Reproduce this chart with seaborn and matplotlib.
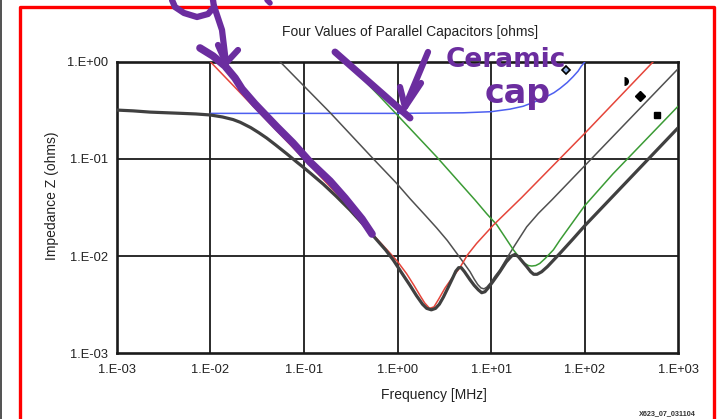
import matplotlib
matplotlib.use("Agg")
import matplotlib.pyplot as plt
import seaborn as sns
from matplotlib.lines import Line2D
from matplotlib.ticker import NullLocator

# ---------------- data ----------------
combined_f = [0.001, 0.0015, 0.00227, 0.0035, 0.005, 0.007, 0.01, 0.0135, 0.0175, 0.0209,
              0.027, 0.033, 0.04, 0.05, 0.0655, 0.0837, 0.0986, 0.12, 0.161, 0.22, 0.311,
              0.45, 0.6, 0.75, 0.902, 1.1, 1.36, 1.6, 1.85, 2.05, 2.3, 2.55, 2.8, 3.1, 3.49,
              3.9, 4.2, 4.5, 4.8, 5.2, 5.96, 6.6, 7.3, 7.94, 8.6, 9.3, 10.5, 12.4, 14.5,
              16.5, 18.0, 19.5, 22.0, 24.0, 26.5, 28.5, 31.0, 34.7, 40.0, 54.5, 75.0,
              100, 1000]
combined_z = [0.318, 0.312, 0.303, 0.298, 0.294, 0.29, 0.283, 0.27, 0.254, 0.238,
              0.21, 0.186, 0.164, 0.139, 0.113, 0.093, 0.082, 0.070, 0.055, 0.0415, 0.0298,
              0.0202, 0.0147, 0.0115, 0.0091, 0.0068, 0.0050, 0.0039, 0.0032, 0.0029, 0.0028,
              0.0029, 0.0032, 0.0038, 0.0048, 0.0060, 0.0070, 0.0076, 0.0076, 0.0069, 0.0057,
              0.0050, 0.0045, 0.0042, 0.0043, 0.0047, 0.0055, 0.0069, 0.0087, 0.0100, 0.0104,
              0.0099, 0.0086, 0.0078, 0.0069, 0.0065, 0.0065, 0.0069, 0.0078, 0.0107, 0.0150,
              0.0205, 0.21]

red_f = [0.01, 0.1, 0.3, 0.575, 0.8, 1.0, 1.25, 1.5, 1.75, 1.95, 2.2, 2.45, 2.75, 3.22,
         3.8, 4.6, 5.6, 7.0, 10.6, 21.2, 100, 540]
red_z = [1.0, 0.1, 0.0325, 0.0158, 0.0112, 0.0088, 0.0066, 0.0050, 0.0039, 0.0033, 0.0029,
         0.0030, 0.0036, 0.0047, 0.0059, 0.0075, 0.0103, 0.0135, 0.0209, 0.040, 0.183, 1.0]

gray_f = [0.0556, 0.19, 0.552, 0.98, 1.36, 2.0, 2.62, 3.4, 4.29, 5.2, 5.96, 6.6, 7.2, 7.8,
          8.4, 9.0, 10.0, 11.0, 12.4, 15.0, 18.0, 24.0, 32.0, 44.5, 100, 1000]
gray_z = [1.0, 0.30, 0.1, 0.056, 0.039, 0.026, 0.0195, 0.0145, 0.0107, 0.0083, 0.0069,
          0.0058, 0.0051, 0.0047, 0.0046, 0.0048, 0.0054, 0.0062, 0.0072, 0.0098, 0.0130,
          0.020, 0.0275, 0.0378, 0.085, 0.85]

green_f = [0.28, 0.65, 2.62, 6.73, 9.0, 11.5, 14.0, 17.3, 20.0, 22.5, 25.0, 27.2, 30.0,
           33.1, 38.0, 46.3, 54.6, 70.0, 100, 200, 1000]
green_z = [1.0, 0.437, 0.105, 0.0378, 0.0272, 0.021, 0.0158, 0.0116, 0.0097, 0.0085,
           0.0080, 0.0079, 0.0080, 0.0084, 0.0095, 0.0116, 0.0147, 0.0205, 0.0330, 0.070, 0.35]

blue_f = [0.01, 1.0, 5.0, 10, 15.9, 22, 30, 39, 47, 54.6, 65, 75, 85, 92, 100, 102]
blue_z = [0.294, 0.294, 0.298, 0.306, 0.325, 0.348, 0.39, 0.437, 0.48, 0.532, 0.61, 0.70,
          0.80, 0.90, 0.99, 1.02]

key_f = [63.5, 263, 391, 597]
key_z = [0.82, 0.63, 0.444, 0.283]

x_ticks = [1e-3, 1e-2, 1e-1, 1e0, 1e1, 1e2, 1e3]
x_tick_labels = ["1.E-03", "1.E-02", "1.E-01", "1.E+00", "1.E+01", "1.E+02", "1.E+03"]
y_ticks = [1e-3, 1e-2, 1e-1, 1e0]
y_tick_labels = ["1.E-03", "1.E-02", "1.E-01", "1.E+00"]

title = "Four Values of Parallel Capacitors [ohms]"
x_label = "Frequency [MHz]"
y_label = "Impedance Z (ohms)"
figure_id = "X623_07_031104"
note_lines = ["Ceramic", "cap"]

# ---------------- style ----------------
sns.set_style("white")
plt.rcParams["font.family"] = ["Liberation Sans", "DejaVu Sans"]

W, H = 720, 419
fig = plt.figure(figsize=(7.2, 4.19), dpi=100)
ax = fig.add_axes([116.7 / W, 1 - 353.3 / H, 561.6 / W, 291.6 / H])
ax.set_xscale("log")
ax.set_yscale("log")
ax.set_xlim(1e-3, 1e3)
ax.set_ylim(1e-3, 1e0)

for v in x_ticks[1:-1]:
    ax.axvline(v, color="#1a1a1a", lw=1.3, zorder=1)
for v in y_ticks[1:-1]:
    ax.axhline(v, color="#1a1a1a", lw=1.3, zorder=1)

common = dict(ax=ax, estimator=None, sort=False, legend=False)
sns.lineplot(x=blue_f, y=blue_z, color="#4d5ff0", lw=1.1, zorder=3, **common)
sns.lineplot(x=gray_f, y=gray_z, color="#505050", lw=1.1, zorder=3, **common)
sns.lineplot(x=green_f, y=green_z, color="#3b9b35", lw=1.1, zorder=3, **common)
sns.lineplot(x=red_f, y=red_z, color="#e5453a", lw=1.1, zorder=3, **common)
sns.lineplot(x=combined_f, y=combined_z, color="#404040", lw=2.3, zorder=4, **common)

# series keys
ax.plot(key_f[0], key_z[0], marker="D", ms=4.5, mfc="#8fb0e0", mec="black", mew=1.2,
        ls="none", zorder=6)
ax.plot(key_f[1], key_z[1], marker="o", ms=6.5, fillstyle="right", mfc="black",
        mec="none", ls="none", zorder=6)
ax.plot(key_f[2], key_z[2], marker="D", ms=5, color="black", ls="none", zorder=6)
ax.plot(key_f[3], key_z[3], marker="s", ms=5, color="black", ls="none", zorder=6)

ax.set_xticks(x_ticks)
ax.set_xticklabels(x_tick_labels)
ax.set_yticks(y_ticks)
ax.set_yticklabels(y_tick_labels)
ax.xaxis.set_minor_locator(NullLocator())
ax.yaxis.set_minor_locator(NullLocator())
ax.tick_params(axis="x", length=0, pad=8, labelsize=9.3, labelcolor="#222222")
ax.tick_params(axis="y", length=0, pad=6, labelsize=9.3, labelcolor="#222222")
for s in ax.spines.values():
    s.set_color("#1a1a1a")
    s.set_linewidth(1.9)
ax.set_xlabel("")
ax.set_ylabel("")

fig.text(410 / W, 1 - 32 / H, title, ha="center", va="center", fontsize=10, color="#222222")
fig.text(434 / W, 1 - 395 / H, x_label, ha="center", va="center", fontsize=10, color="#222222")
fig.text(52 / W, 1 - 196 / H, y_label, ha="center", va="center", rotation=90,
         fontsize=10, color="#222222")
fig.text(667 / W, 1 - 414 / H, figure_id, ha="center", va="center", fontsize=5.2,
         fontweight="bold", color="#333333")

# ---------------- page frame and hand-drawn marks ----------------
def px(points):
    xs = [p[0] / W for p in points]
    ys = [1 - p[1] / H for p in points]
    return xs, ys

def stroke(points, color, lw):
    xs, ys = px(points)
    fig.add_artist(Line2D(xs, ys, transform=fig.transFigure, color=color, lw=lw,
                          solid_capstyle="round", solid_joinstyle="round", zorder=10))

stroke([(0.5, 0), (0.5, H)], "#333333", 1.2)
stroke([(19.5, H), (19.5, 7), (713.5, 7), (713.5, H)], "#ff0000", 2.4)

purple = "#6b2d9f"
stroke([(172, 0), (175, 7), (184, 13), (197, 17), (208, 14), (214, 7), (213, 0)], purple, 4.5)
stroke([(214, 6), (222, 30), (226, 63)], purple, 4.5)
stroke([(218, 45), (226, 63), (238, 50)], purple, 4.5)
stroke([(267, 0), (270, 3)], purple, 4)
stroke([(200, 48), (213, 56), (225, 66), (235, 78), (242, 89), (255, 104), (277, 127),
        (293, 143), (310, 162), (330, 181), (345, 198), (362, 219), (372, 234)], purple, 5.5)
stroke([(335, 52), (410, 118)], purple, 5)
stroke([(428, 52), (405, 107)], purple, 4.5)
stroke([(400, 87), (405, 107), (421, 83)], purple, 4.5)
fig.text(506 / W, 1 - 60 / H, note_lines[0], ha="center", va="center", fontsize=19,
         fontweight="bold", color=purple, family="DejaVu Sans", zorder=10)
fig.text(518 / W, 1 - 93 / H, note_lines[1], ha="center", va="center", fontsize=24,
         fontweight="bold", color=purple, family="DejaVu Sans", zorder=10)

fig.savefig("out.png", dpi=100)
